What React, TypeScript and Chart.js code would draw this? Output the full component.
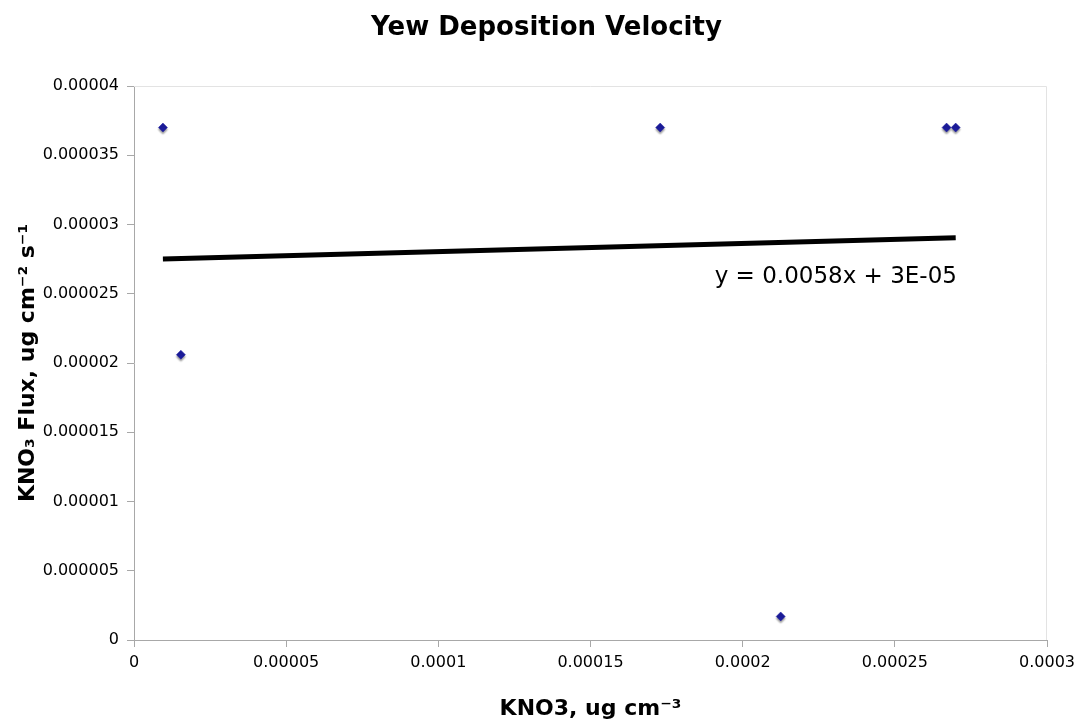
import React, { useEffect, useRef } from "react";
import { Chart, registerables } from "chart.js";

Chart.register(...registerables);

const chartTitle = "Yew Deposition Velocity";
const xAxisTitle = "KNO3, ug cm\u207B\u00B3";
const yAxisTitle = "KNO\u2083 Flux, ug cm\u207B\u00B2 s\u207B\u00B9";

const xValues = [0.0000095, 0.0000154, 0.0001729, 0.0002125, 0.000267, 0.00027];
const yValues = [0.000037, 0.0000206, 0.000037, 0.0000017, 0.000037, 0.000037];

const xTickValues = [0, 0.00005, 0.0001, 0.00015, 0.0002, 0.00025, 0.0003];
const xTickLabels = ["0", "0.00005", "0.0001", "0.00015", "0.0002", "0.00025", "0.0003"];
const yTickValues = [0, 0.000005, 0.00001, 0.000015, 0.00002, 0.000025, 0.00003, 0.000035, 0.00004];
const yTickLabels = ["0", "0.000005", "0.00001", "0.000015", "0.00002", "0.000025", "0.00003", "0.000035", "0.00004"];

const equationText = "y = 0.0058x + 3E-05";
const equationAnchor = { x: 0.0002306, y: 0.0000262 };

function linearFit(xs: number[], ys: number[]) {
  const n = xs.length;
  const mx = xs.reduce((a, b) => a + b, 0) / n;
  const my = ys.reduce((a, b) => a + b, 0) / n;
  let sxy = 0;
  let sxx = 0;
  for (let i = 0; i < n; i++) {
    sxy += (xs[i] - mx) * (ys[i] - my);
    sxx += (xs[i] - mx) * (xs[i] - mx);
  }
  const slope = sxy / sxx;
  return { slope, intercept: my - slope * mx };
}

const FONT = "'DejaVu Sans', Verdana, sans-serif";

export default function App() {
  const canvasRef = useRef<HTMLCanvasElement | null>(null);

  useEffect(() => {
    if (!canvasRef.current) return;
    const fit = linearFit(xValues, yValues);
    const xMin = Math.min(...xValues);
    const xMax = Math.max(...xValues);
    const trend = [
      { x: xMin, y: fit.slope * xMin + fit.intercept },
      { x: xMax, y: fit.slope * xMax + fit.intercept },
    ];

    const frameAndLabel = {
      id: "frameAndLabel",
      beforeDatasetsDraw(chart: any) {
        const { ctx, chartArea } = chart;
        ctx.save();
        ctx.strokeStyle = "#e3e3e3";
        ctx.lineWidth = 1;
        ctx.beginPath();
        ctx.moveTo(chartArea.left, chartArea.top + 0.5);
        ctx.lineTo(chartArea.right - 0.5, chartArea.top + 0.5);
        ctx.lineTo(chartArea.right - 0.5, chartArea.bottom);
        ctx.stroke();
        ctx.restore();
      },
      beforeDatasetDraw(chart: any, args: any) {
        if (args.index === 1) {
          const ctx = chart.ctx;
          ctx.save();
          ctx.shadowColor = "rgba(0,0,0,0.4)";
          ctx.shadowOffsetX = 0;
          ctx.shadowOffsetY = 2;
          ctx.shadowBlur = 2;
        }
      },
      afterDatasetDraw(chart: any, args: any) {
        if (args.index === 1) chart.ctx.restore();
      },
      afterDraw(chart: any) {
        const { ctx, scales, width } = chart;
        ctx.save();
        ctx.fillStyle = "#000";
        ctx.textAlign = "center";
        ctx.textBaseline = "middle";
        ctx.font = `bold 26px ${FONT}`;
        ctx.fillText(chartTitle, width / 2 + 6, 28);
        ctx.font = `23px ${FONT}`;
        ctx.fillText(
          equationText,
          scales.x.getPixelForValue(equationAnchor.x),
          scales.y.getPixelForValue(equationAnchor.y)
        );
        ctx.restore();
      },
    };

    const chart = new Chart(canvasRef.current, {
      type: "scatter",
      data: {
        datasets: [
          {
            type: "line",
            label: "Trend",
            data: trend,
            borderColor: "#000",
            borderWidth: 5,
            pointRadius: 0,
            fill: false,
          } as any,
          {
            label: "Yew",
            data: xValues.map((x, i) => ({ x, y: yValues[i] })),
            pointStyle: "rectRot",
            pointRadius: 4.5,
            borderWidth: 0.5,
            backgroundColor: "#1c1c9e",
            borderColor: "#1c1c9e",
          },
        ],
      },
      options: {
        animation: false,
        responsive: false,
        maintainAspectRatio: false,
        layout: { padding: { left: 0, right: 33, top: 86, bottom: 0 } },
        plugins: {
          legend: { display: false },
          tooltip: { enabled: false },
          title: { display: false },
        },
        scales: {
          x: {
            type: "linear",
            min: 0,
            max: 0.0003,
            afterFit(scale: any) {
              scale.height = 85;
            },
            afterBuildTicks(scale: any) {
              scale.ticks = xTickValues.map((v) => ({ value: v }));
            },
            ticks: {
              autoSkip: false,
              maxRotation: 0,
              color: "#000",
              font: { family: FONT, size: 16 },
              padding: 6,
              callback: (_v: any, i: number) => xTickLabels[i],
            },
            grid: { drawOnChartArea: false, drawTicks: true, tickLength: 7, color: "#a8a8a8" },
            border: { color: "#a8a8a8", width: 1 },
            title: {
              display: true,
              text: xAxisTitle,
              color: "#000",
              font: { family: FONT, size: 22, weight: "bold" },
              padding: { top: 0, bottom: 3 },
            },
          },
          y: {
            type: "linear",
            min: 0,
            max: 0.00004,
            afterFit(scale: any) {
              scale.width = 134;
            },
            afterBuildTicks(scale: any) {
              scale.ticks = yTickValues.map((v) => ({ value: v }));
            },
            ticks: {
              autoSkip: false,
              color: "#000",
              font: { family: FONT, size: 16 },
              padding: 8,
              callback: (_v: any, i: number) => yTickLabels[i],
            },
            grid: { drawOnChartArea: false, drawTicks: true, tickLength: 7, color: "#a8a8a8" },
            border: { color: "#a8a8a8", width: 1 },
            title: {
              display: true,
              text: yAxisTitle,
              color: "#000",
              font: { family: FONT, size: 22, weight: "bold" },
              padding: { top: 15, bottom: 0 },
            },
          },
        },
      },
      plugins: [frameAndLabel],
    });

    return () => chart.destroy();
  }, []);

  return (
    <div style={{ position: "fixed", left: 0, top: 0, width: 1081, height: 725, background: "#fff" }}>
      <canvas ref={canvasRef} width={1081} height={725} style={{ width: 1081, height: 725, display: "block" }} />
    </div>
  );
}
